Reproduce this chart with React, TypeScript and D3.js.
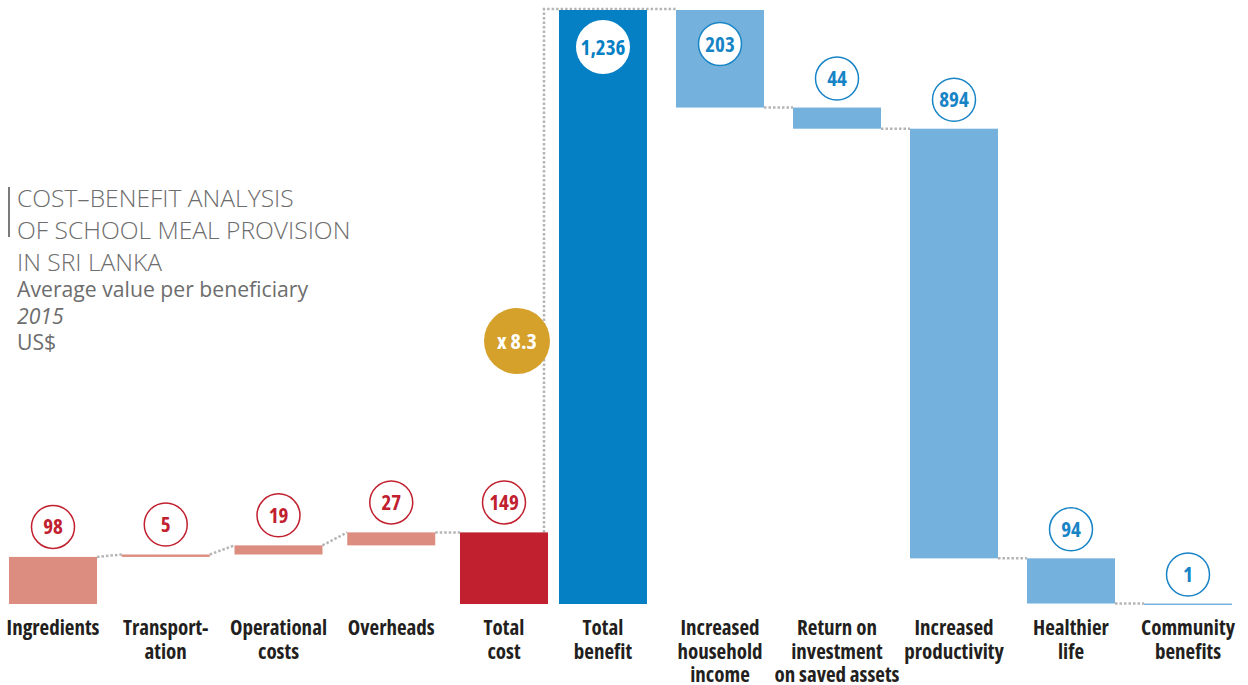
import React from "react";
import * as d3 from "d3";

const costCategories = ["Ingredients", "Transport-\nation", "Operational\ncosts", "Overheads", "Total\ncost"];
const costValues = [98, 5, 19, 27, 149];
const benefitCategories = [
  "Total\nbenefit",
  "Increased\nhousehold\nincome",
  "Return on\ninvestment\non saved assets",
  "Increased\nproductivity",
  "Healthier\nlife",
  "Community\nbenefits",
];
const benefitValues = [1236, 203, 44, 894, 94, 1];
const ratioLabel = "x 8.3";
const titleLines = ["COST–BENEFIT ANALYSIS", "OF SCHOOL MEAL PROVISION", "IN SRI LANKA"];
const subtitle = "Average value per beneficiary";
const yearLabel = "2015";
const unitLabel = "US$";

const W = 1248;
const H = 685;
const COND = "'Open Sans', 'Liberation Sans Narrow', sans-serif";

type Seg = { cat: string; v: number; lo: number; hi: number; end: number; total: boolean };

function buildCost(): Seg[] {
  let cum = 0;
  return costCategories.map((c, i) => {
    const v = costValues[i];
    const total = i === costCategories.length - 1;
    if (total) return { cat: c, v, lo: 0, hi: v, end: v, total };
    const s = { cat: c, v, lo: cum, hi: cum + v, end: cum + v, total };
    cum += v;
    return s;
  });
}
function buildBenefit(): Seg[] {
  let cum = 0;
  return benefitCategories.map((c, i) => {
    const v = benefitValues[i];
    if (i === 0) {
      cum = v;
      return { cat: c, v, lo: 0, hi: v, end: v, total: true };
    }
    const s = { cat: c, v, lo: cum - v, hi: cum, end: cum - v, total: false };
    cum -= v;
    return s;
  });
}

export default function App() {
  const y = d3.scaleLinear().domain([0, 1236]).range([604, 10]);
  const xc = d3.scaleBand<string>().domain(costCategories).range([9, 548]).paddingInner(0.2195).paddingOuter(0);
  const xb = d3.scaleBand<string>().domain(benefitCategories).range([559, 1232]).paddingInner(0.248).paddingOuter(0);
  const cost = buildCost();
  const ben = buildBenefit();
  const fmt = d3.format(",");

  const dot = { stroke: "#b5b5b5", strokeWidth: 2.5, strokeDasharray: "2.5 2", fill: "none" };

  const costColor = (s: Seg) => (s.total ? "#c1202f" : "#dc8d80");
  const benColor = (s: Seg) => (s.total ? "#0580c4" : "#74b1dc");

  const catLabel = (text: string, cx: number, key: string) => (
    <text key={key} x={cx} y={635} textAnchor="middle" fontFamily={COND} fontWeight={700} fontSize={21}
      fill="#231f20" style={{ fontStretch: "condensed" }}>
      {text.split("\n").map((ln, i) => (
        <tspan key={i} x={cx} dy={i === 0 ? 0 : 23.5}>{ln}</tspan>
      ))}
    </text>
  );

  const bubble = (val: number, cx: number, cy: number, color: string, key: string, r = 21.5) => (
    <g key={key}>
      <circle cx={cx} cy={cy} r={r} fill="#fff" stroke={color} strokeWidth={1.5} />
      <text x={cx} y={cy} dy="0.36em" textAnchor="middle" fontFamily={COND} fontWeight={700} fontSize={21}
        fill={color} style={{ fontStretch: "condensed" }}>{fmt(val)}</text>
    </g>
  );

  const bw = xc.bandwidth();
  const bwb = xb.bandwidth();
  const totalCostX = xc(costCategories[4])! + bw - 4;

  return (
    <svg width={W} height={H} style={{ position: "absolute", left: 0, top: 0, background: "#fff" }}>
      {/* title */}
      <line x1={9} x2={9} y1={187} y2={237} stroke="#7a7a7a" strokeWidth={2} />
      {titleLines.map((t, i) => (
        <text key={t} x={17} y={207 + i * 32} fontFamily="'Open Sans', sans-serif" fontWeight={300} fontSize={24.6} fill="#6d6d6d">{t}</text>
      ))}
      <text x={17} y={297} fontFamily="'Open Sans', sans-serif" fontWeight={400} fontSize={21.2} fill="#6d6d6d">{subtitle}</text>
      <text x={17} y={324} fontFamily="'Open Sans', sans-serif" fontStyle="italic" fontSize={21.2} fill="#6d6d6d">{yearLabel}</text>
      <text x={17} y={350} fontFamily="'Open Sans', sans-serif" fontSize={21.2} fill="#6d6d6d">{unitLabel}</text>

      {/* connectors: costs */}
      {cost.slice(0, -1).map((s, i) => {
        const n = cost[i + 1];
        return (
          <line key={"cc" + i} x1={xc(s.cat)! + bw} y1={y(s.end)} x2={xc(n.cat)!} y2={y(n.hi)} style={dot} />
        );
      })}
      {/* total cost to total benefit */}
      <polyline points={`${totalCostX},${y(cost[4].hi)} ${totalCostX},${y(1236) - 1} ${xb(ben[1].cat)!},${y(1236) - 1}`} style={dot} />
      {/* connectors: benefits */}
      {ben.slice(1, -1).map((s, i) => {
        const n = ben[i + 2];
        return (
          <line key={"bc" + i} x1={xb(s.cat)! + bwb} y1={y(s.end)} x2={xb(n.cat)!} y2={y(n.hi)} style={dot} />
        );
      })}

      {/* ratio bubble */}
      <circle cx={517} cy={341} r={33} fill="#d5a12b" />
      <text x={517} y={341} dy="0.36em" textAnchor="middle" fontFamily={COND} fontWeight={700} fontSize={22}
        fill="#fff" style={{ fontStretch: "condensed" }}>{ratioLabel}</text>

      {/* bars */}
      {cost.map((s) => (
        <rect key={s.cat} x={xc(s.cat)!} y={y(s.hi)} width={bw} height={Math.max(1.5, y(s.lo) - y(s.hi))} fill={costColor(s)} />
      ))}
      {ben.map((s) => (
        <rect key={s.cat} x={xb(s.cat)!} y={y(s.hi)} width={bwb} height={Math.max(1.5, y(s.lo) - y(s.hi))} fill={benColor(s)} />
      ))}

      {/* value bubbles */}
      {cost.map((s) => bubble(s.v, xc(s.cat)! + bw / 2, y(s.hi) - 30, "#c1202f", "cb" + s.cat))}
      {ben.map((s, i) => {
        const cx = xb(s.cat)! + bwb / 2;
        if (i === 0) {
          return (
            <g key="tb">
              <circle cx={cx} cy={y(s.hi) + 37} r={27} fill="#fff" />
              <text x={cx} y={y(s.hi) + 37} dy="0.36em" textAnchor="middle" fontFamily={COND} fontWeight={700} fontSize={21}
                fill="#0580c4" style={{ fontStretch: "condensed" }}>{fmt(s.v)}</text>
            </g>
          );
        }
        const top = y(s.hi);
        const cy = top < 60 ? top + 34 : top - 29;
        return bubble(s.v, cx, cy, "#1784c6", "bb" + s.cat);
      })}

      {/* category labels */}
      {cost.map((s) => catLabel(s.cat, xc(s.cat)! + bw / 2, "cl" + s.cat))}
      {ben.map((s) => catLabel(s.cat, xb(s.cat)! + bwb / 2, "bl" + s.cat))}
    </svg>
  );
}
